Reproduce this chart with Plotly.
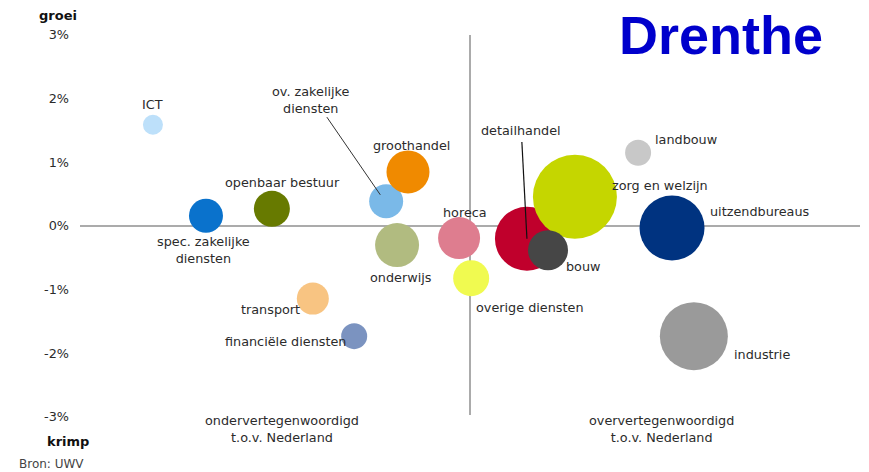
import plotly.graph_objects as go

# ---- data -------------------------------------------------------------
sectoren = ["ICT", "spec. zakelijke diensten", "openbaar bestuur", "ov. zakelijke diensten",
            "groothandel", "onderwijs", "transport", "financiële diensten", "horeca",
            "overige diensten", "detailhandel", "zorg en welzijn", "bouw", "landbouw",
            "uitzendbureaus", "industrie"]
# relatieve vertegenwoordiging t.o.v. Nederland (0 = gelijk)
vertegenwoordiging = [-0.813, -0.677, -0.508, -0.215, -0.159, -0.187, -0.403, -0.297, -0.028,
                      0.003, 0.146, 0.269, 0.200, 0.431, 0.518, 0.574]
# groei (%)
groei = [1.59, 0.16, 0.27, 0.39, 0.85, -0.30, -1.14, -1.73, -0.19,
         -0.82, -0.20, 0.46, -0.38, 1.15, -0.03, -1.73]
# omvang (bubble diameter)
omvang = [20, 34, 36, 34, 43, 44, 32, 26, 42, 36, 64, 84, 40, 26, 65, 68]
ytick_vals = [3, 2, 1, 0, -1, -2, -3]
ytick_text = ["3%", "2%", "1%", "0%", "-1%", "-2%", "-3%"]

kleuren = ["#bde0fa", "#0a72cc", "#677a00", "#7ab9e8", "#f08a00", "#b1bb80", "#f8c482",
           "#7b93c0", "#de7d8f", "#f0fa50", "#c0002c", "#c5d600", "#464646", "#c8c8c8",
           "#003380", "#9a9a9a"]

# label placement: (text, xanchor, xshift, yshift)
labels = {
    "ICT": ("ICT", "center", 0, 20),
    "spec. zakelijke diensten": ("spec. zakelijke<br>diensten", "center", -2, -34),
    "openbaar bestuur": ("openbaar bestuur", "center", 11, 26),
    "ov. zakelijke diensten": ("ov. zakelijke<br>diensten", "center", -75, 101),
    "groothandel": ("groothandel", "center", 4, 26),
    "onderwijs": ("onderwijs", "center", 4, -32),
    "transport": ("transport", "right", -11, -11),
    "financiële diensten": ("financiële diensten", "right", -6, -5),
    "horeca": ("horeca", "center", 6, 26),
    "overige diensten": ("overige diensten", "left", 3, -29),
    "detailhandel": ("detailhandel", "center", -6, 108),
    "zorg en welzijn": ("zorg en welzijn", "center", 85, 11),
    "bouw": ("bouw", "left", 16, -16),
    "landbouw": ("landbouw", "left", 15, 13),
    "uitzendbureaus": ("uitzendbureaus", "left", 36, 16),
    "industrie": ("industrie", "left", 38, -18),
}

FONT = "DejaVu Sans, Verdana, sans-serif"
TXT = "#2b2b2b"

fig = go.Figure()

# axes cross lines
fig.add_shape(type="line", x0=-1, x1=1, y0=0, y1=0, line=dict(color="#ababab", width=2), layer="below")
fig.add_shape(type="line", x0=0, x1=0, y0=-2.97, y1=3, line=dict(color="#ababab", width=2), layer="below")

fig.add_trace(go.Scatter(
    x=vertegenwoordiging, y=groei, mode="markers",
    marker=dict(size=omvang, sizemode="diameter", sizeref=1, color=kleuren,
                opacity=1, line=dict(width=0)),
    hovertext=sectoren, hoverinfo="text", showlegend=False,
))

for s, xv, yv in zip(sectoren, vertegenwoordiging, groei):
    t, xa, xs, ys = labels[s]
    fig.add_annotation(x=xv, y=yv, text=t, showarrow=False, xanchor=xa, yanchor="middle",
                       xshift=xs, yshift=ys, font=dict(family=FONT, size=12.8, color=TXT))

# leader lines
i_ov = sectoren.index("ov. zakelijke diensten")
fig.add_shape(type="line", x0=-0.367, y0=1.71, x1=vertegenwoordiging[i_ov] - 0.015,
              y1=groei[i_ov] + 0.10, line=dict(color="#333333", width=1))
i_dh = sectoren.index("detailhandel")
fig.add_shape(type="line", x0=0.133, y0=1.32, x1=vertegenwoordiging[i_dh],
              y1=groei[i_dh], line=dict(color="#111111", width=1.2))


def px(xp, yp):
    """page pixel -> paper coords (plot area spans page x 80..860, y 35..417)"""
    return (xp - 80) / 780, (417 - yp) / 382


def add_text(xp, yp, text, size, color, xanchor="center", family=FONT):
    xx, yy = px(xp, yp)
    fig.add_annotation(x=xx, y=yy, xref="paper", yref="paper", text=text, showarrow=False,
                       xanchor=xanchor, yanchor="middle",
                       font=dict(family=family, size=size, color=color))


add_text(282, 429, "ondervertegenwoordigd<br>t.o.v. Nederland", 12.8, TXT)
add_text(661, 429, "oververtegenwoordigd<br>t.o.v. Nederland", 12.8, TXT)
add_text(58, 15, "<b>groei</b>", 13, "#111111")
add_text(68, 441, "<b>krimp</b>", 13, "#111111")
add_text(17, 464, "Bron: UWV", 12, "#444444", xanchor="left")
add_text(721, 35, "<b>Drenthe</b>", 54, "#0000cc", family="Liberation Sans, Arial, sans-serif")

# page has an 8px body margin: figure is offset by (8, 8)
fig.update_layout(
    width=861, height=464,
    margin=dict(l=72, r=9, t=27, b=55),
    paper_bgcolor="white", plot_bgcolor="white",
    xaxis=dict(range=[-1, 1], visible=False, showgrid=False, zeroline=False),
    yaxis=dict(range=[-3, 3], tickvals=ytick_vals, ticktext=ytick_text, showgrid=False,
               zeroline=False, showline=False, ticks="", ticklabelstandoff=10,
               tickfont=dict(family=FONT, size=12.8, color=TXT)),
    showlegend=False,
)

fig.write_html("out.html")
